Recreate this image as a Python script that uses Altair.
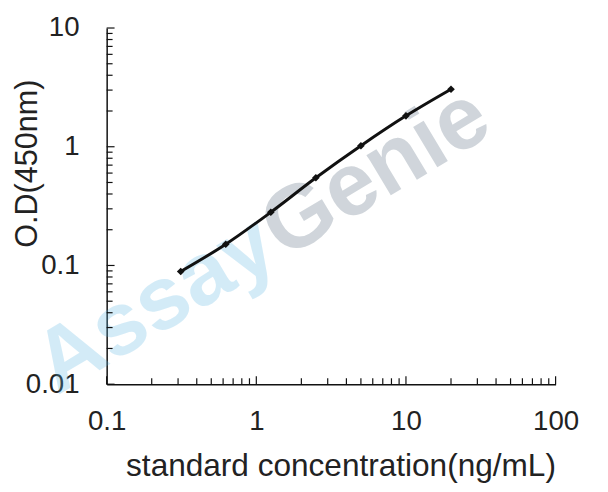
import altair as alt
import pandas as pd

# Data
conc = [0.3125, 0.625, 1.25, 2.5, 5, 10, 20]
od = [0.089, 0.151, 0.281, 0.548, 1.02, 1.82, 3.05]

x_major = [0.1, 1, 10, 100]
y_major = [0.01, 0.1, 1, 10]
x_minor = [k * 10 ** e for e in (-1, 0, 1) for k in range(2, 10)]
y_minor = [k * 10 ** e for e in (-2, -1, 0) for k in range(2, 10)]

x_title = "standard concentration(ng/mL)"
y_title = "O.D(450nm)"

W, H = 455, 361
FONT = "Liberation Sans"

df = pd.DataFrame({"conc": conc, "od": od})

xscale = alt.Scale(type="log", domain=[0.1, 100], nice=False)
yscale = alt.Scale(type="log", domain=[0.01, 10], nice=False)

xaxis = alt.Axis(values=x_major, format="~g", ticks=False, grid=False,
                 domainColor="#111", domainWidth=1.5, labelFont=FONT,
                 labelFontSize=28, labelColor="#222", labelPadding=24,
                 labelFlush=False, labelOverlap=False,
                 titleFont=FONT, titleFontSize=32, titleFontWeight="normal",
                 titleColor="#222", titlePadding=16, titleX=237)
yaxis = alt.Axis(values=y_major, format="~g", ticks=False, grid=False,
                 domainColor="#111", domainWidth=1.5, labelFont=FONT,
                 labelFontSize=28, labelColor="#222", labelPadding=28,
                 labelFlush=False, labelOverlap=False, labelBaseline="middle",
                 titleFont=FONT, titleFontSize=31, titleFontWeight="normal",
                 titleColor="#222", titleAngle=270, titleX=-80, titleY=137,
                 titleAlign="center", titleBaseline="middle")

base = alt.Chart(df)

line = base.mark_line(color="#111", strokeWidth=3, interpolate="catmull-rom").encode(
    x=alt.X("conc:Q", scale=xscale, axis=xaxis, title=x_title),
    y=alt.Y("od:Q", scale=yscale, axis=yaxis, title=y_title),
)
pts = base.mark_point(shape="diamond", filled=True, color="#111", size=60, opacity=1).encode(
    x=alt.X("conc:Q", scale=xscale, title=x_title),
    y=alt.Y("od:Q", scale=yscale, title=y_title),
)

xt_major = alt.Chart(pd.DataFrame({"xt": x_major})).mark_rule(color="#111", strokeWidth=1.2).encode(
    x=alt.X("xt:Q", scale=xscale, title=x_title), y=alt.value(H), y2=alt.value(H - 8))
xt_minor = alt.Chart(pd.DataFrame({"xt": x_minor})).mark_rule(color="#111", strokeWidth=1.2).encode(
    x=alt.X("xt:Q", scale=xscale, title=x_title), y=alt.value(H), y2=alt.value(H - 6))
yt_major = alt.Chart(pd.DataFrame({"yt": y_major})).mark_rule(color="#111", strokeWidth=1.2).encode(
    y=alt.Y("yt:Q", scale=yscale, title=y_title), x=alt.value(0), x2=alt.value(8))
yt_minor = alt.Chart(pd.DataFrame({"yt": y_minor})).mark_rule(color="#111", strokeWidth=1.2).encode(
    y=alt.Y("yt:Q", scale=yscale, title=y_title), x=alt.value(0), x2=alt.value(6))

wm1 = alt.Chart(pd.DataFrame({"t": ["Assay"]})).mark_text(
    angle=329, fontSize=90, fontWeight="bold", font=FONT, color="#5ab6e4",
    opacity=0.26, baseline="middle", align="center").encode(
    text="t:N", x=alt.value(50), y=alt.value(281))
wm2 = alt.Chart(pd.DataFrame({"t": ["Genie"]})).mark_text(
    angle=329, fontSize=90, fontWeight="bold", font=FONT, color="#8593a1",
    opacity=0.38, baseline="middle", align="center").encode(
    text="t:N", x=alt.value(273), y=alt.value(147))

chart = alt.layer(wm1, wm2, line, pts, xt_major, xt_minor, yt_major, yt_minor).properties(
    width=W, height=H,
    autosize=alt.AutoSizeParams(type="none"),
    padding={"left": 100, "top": 17, "right": 45, "bottom": 108},
    background="white",
).configure_view(stroke=None)

chart.save("out.html", embed_options={"renderer": "svg", "actions": False})
